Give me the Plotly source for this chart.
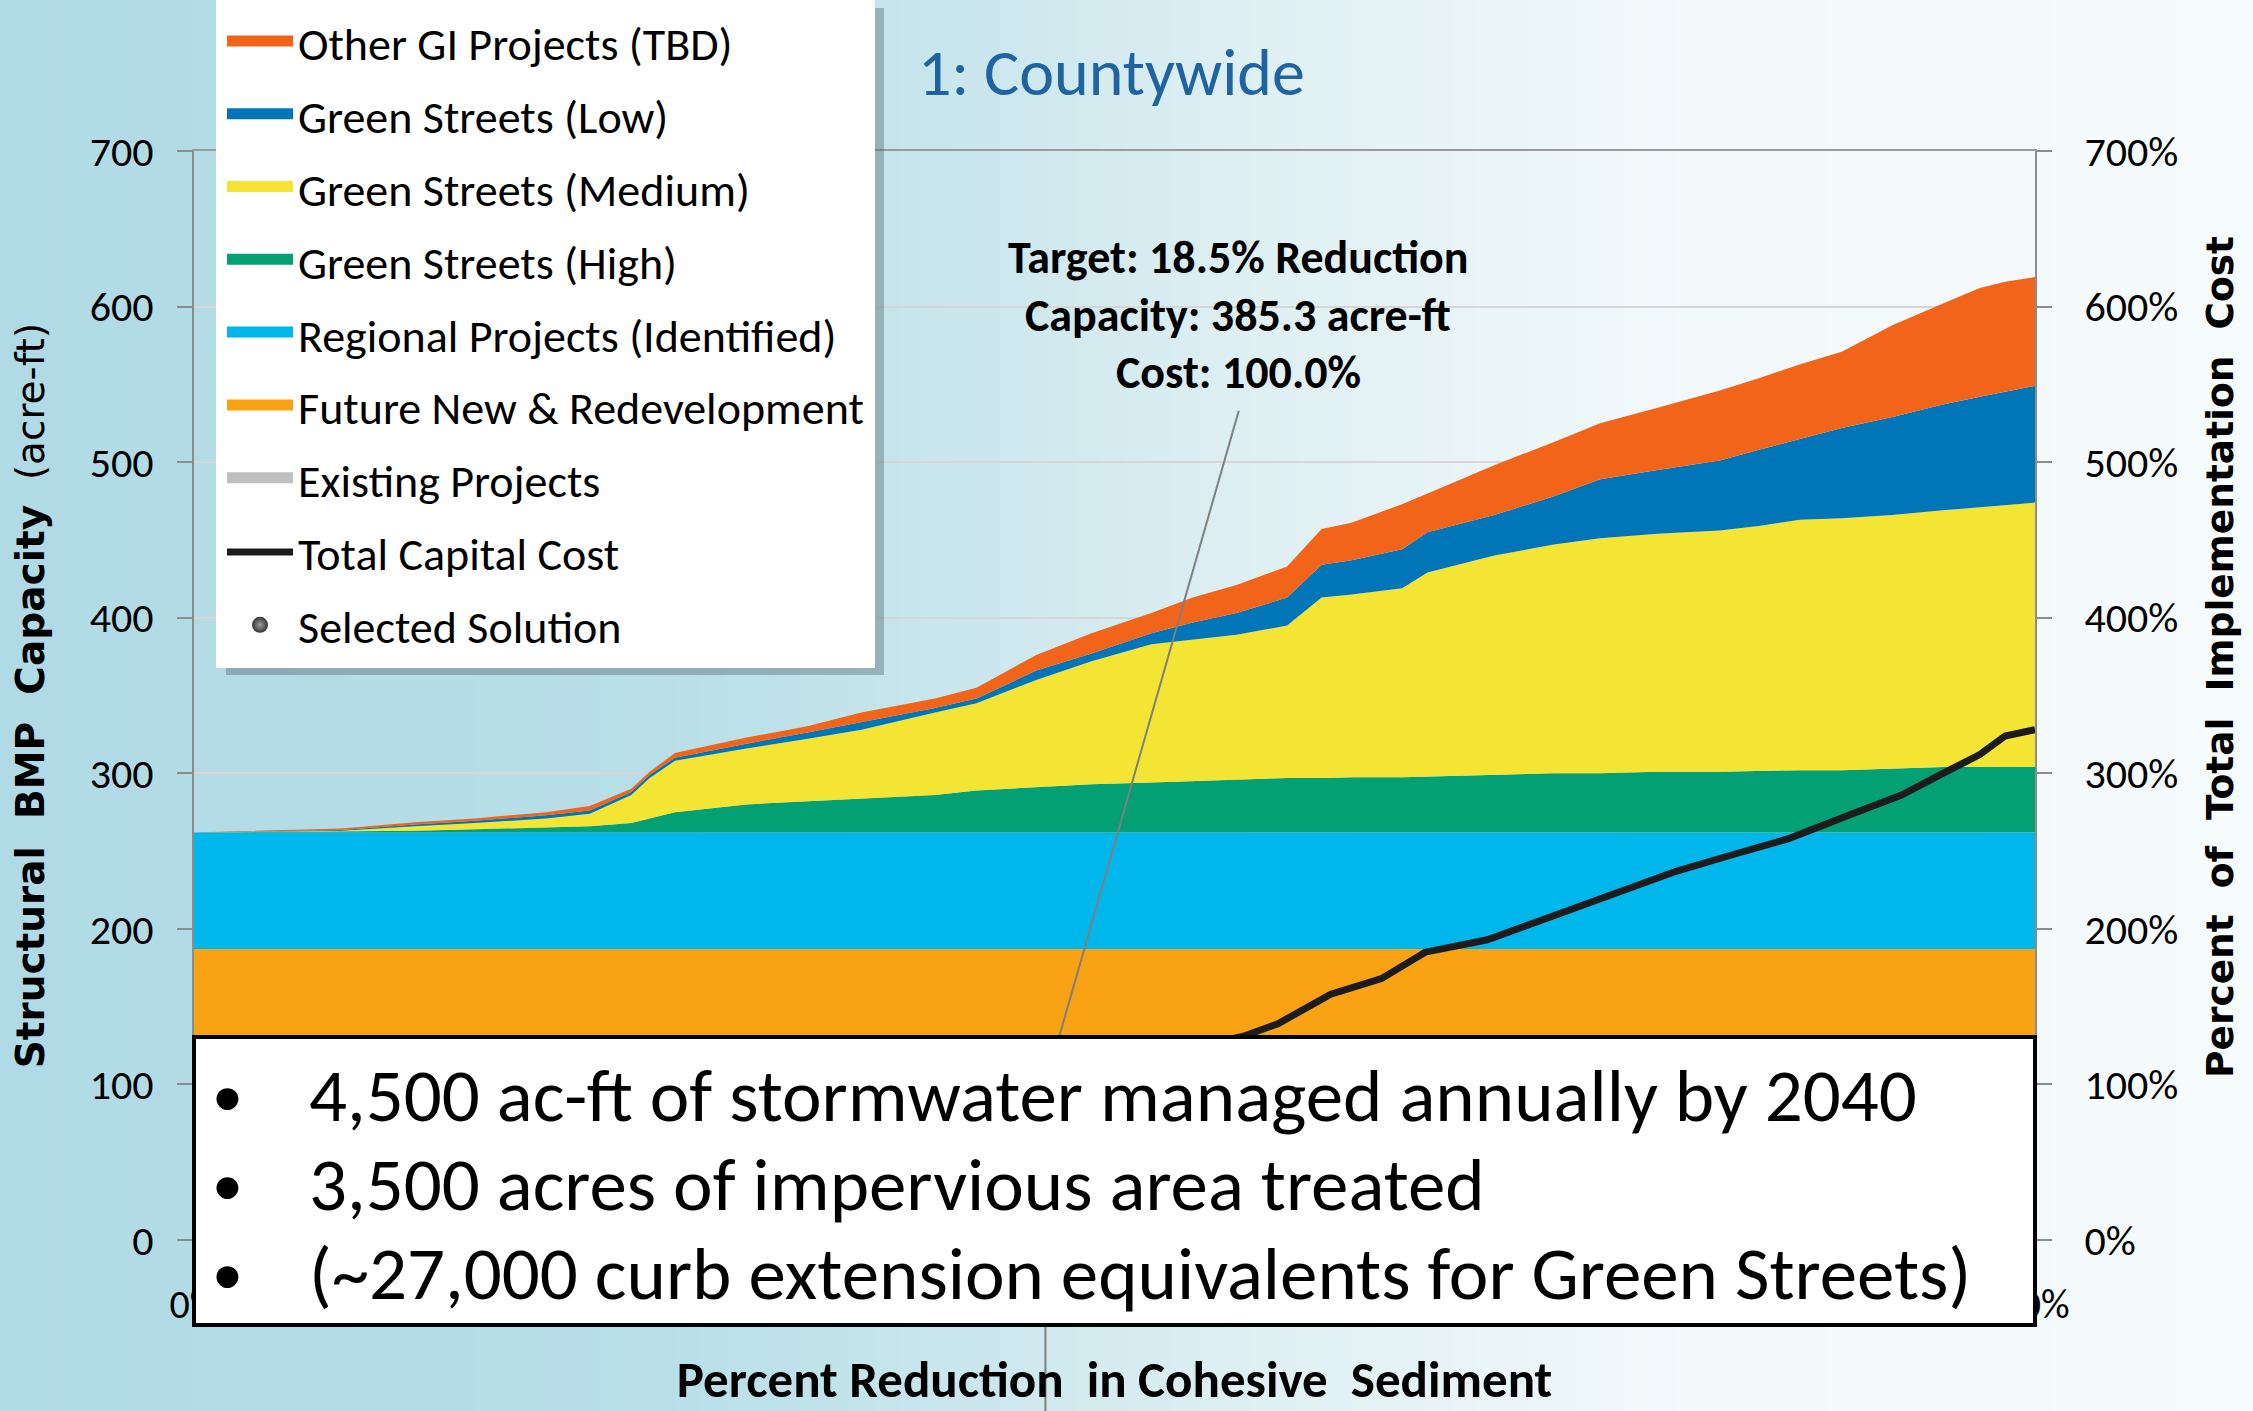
import plotly.graph_objects as go

# ---------------- data ----------------
REDUCTION_PCT = [0, 3.2, 4.8, 6.1, 7.65, 8.6, 9.5, 9.9, 10.45, 12.0, 13.3, 14.5,
                 16.1, 17.0, 18.3, 19.5, 20.8, 21.7, 22.65, 23.75, 24.5, 25.15,
                 26.25, 26.8, 28.25, 29.55, 30.55, 31.8, 33.15, 34.0, 34.9, 35.8,
                 36.9, 38.0, 38.8, 39.35, 40.0]

EXISTING_PROJECTS = 18      # acre-ft, constant band (hidden under text box)
FUTURE_REDEV = 169          # acre-ft, constant band
REGIONAL_IDENTIFIED = 75    # acre-ft, constant band

GS_HIGH = [0, 0.5, 1, 2, 3, 4, 6, 9, 13, 18, 20, 22, 24, 27, 29, 31, 32, 33, 34,
           35, 35, 35.5, 35.5, 36, 37, 38, 38, 39, 39, 39.5, 40, 40, 41, 42, 42, 42, 42]
GS_MEDIUM = [0, 0.5, 3, 4, 6, 8, 18, 26, 33, 36, 40, 44, 53, 56, 69, 79, 89, 91, 93,
             98, 116, 117.5, 121.5, 131, 141, 147, 151, 153, 155, 157.5, 161, 162,
             163, 165, 167, 168, 170]
GS_LOW = [0, 0.5, 1, 1.5, 2, 2, 2, 2, 2, 3, 4, 5, 3, 3, 6, 5, 7, 11, 14, 18, 21, 22,
          25, 26, 26, 31, 38, 41, 45, 49, 52, 58, 63, 68, 71, 73, 75]
OTHER_GI = [0, 1, 1.5, 1.5, 2, 3, 2, 2, 3, 4, 4, 6, 6, 7, 10, 13, 13, 16, 18, 20, 23,
            24, 29, 25, 32, 35, 36, 40, 45, 46, 48, 49, 59, 65, 70, 71, 70]

COST_X = [0, 5.15, 9.85, 14.5, 18.5, 20.8, 22.2, 22.8, 23.55, 24.7, 25.8, 26.75,
          28.1, 29.6, 30.9, 32.2, 33.35, 34.65, 35.95, 37.1, 38.0, 38.8, 39.35, 40.0]
COST_PCT = [3, 22, 45, 70, 100, 114, 127, 131, 139, 158, 168, 185, 193, 209, 223,
            237, 247, 258, 273, 286, 300, 312, 324, 328]

TARGET_PCT = 18.5
TARGET_CAPACITY = 385.3
TARGET_COST = 100.0

Y_TICKS = [0, 100, 200, 300, 400, 500, 600, 700]
Y_TICK_TEXT = ["0", "100", "200", "300", "400", "500", "600", "700"]
Y2_TICK_TEXT = ["0%", "100%", "200%", "300%", "400%", "500%", "600%", "700%"]
X_TICKS = [0, 40]
X_TICK_TEXT = ["0%", "40%"]

BULLETS = ["4,500 ac-ft of stormwater managed annually by 2040",
           "3,500 acres of impervious area treated",
           "(~27,000 curb extension equivalents for Green Streets)"]

# ---------------- styling ----------------
W, H = 2253, 1411
ML, MR, MT, MB = 194, 218, 151, 171
PW, PH = W - ML - MR, H - MT - MB
FONT = "Carlito, Calibri, Lato, sans-serif"
WIDE = "Verdana, 'DejaVu Sans', sans-serif"


def px_x(p):  # figure pixel -> paper x
    return (p - ML) / PW


def px_y(p):  # figure pixel -> paper y
    return (H - MB - p) / PH


fig = go.Figure()

n = len(REDUCTION_PCT)
stack_specs = [
    ("Existing Projects", [EXISTING_PROJECTS] * n, "#bfbfbf", 7),
    ("Future New & Redevelopment", [FUTURE_REDEV] * n, "#f9a213", 6),
    ("Regional Projects (Identified)", [REGIONAL_IDENTIFIED] * n, "#00b7eb", 5),
    ("Green Streets (High)", GS_HIGH, "#02a073", 4),
    ("Green Streets (Medium)", GS_MEDIUM, "#f4e535", 3),
    ("Green Streets (Low)", GS_LOW, "#0075b8", 2),
    ("Other GI Projects (TBD)", OTHER_GI, "#f26419", 1),
]
for name, vals, color, rank in stack_specs:
    fig.add_trace(go.Scatter(
        x=REDUCTION_PCT, y=vals, name=name, mode="lines", stackgroup="cap",
        line=dict(width=0, shape="linear", color=color), fillcolor=color,
        legendgroup=name, showlegend=False, hoverinfo="skip"))
    # legend entry with a thicker swatch
    fig.add_trace(go.Scatter(
        x=[None], y=[None], name=name, mode="lines", fill="toself",
        fillcolor=color, line=dict(color=color, width=10),
        legendgroup=name, legendrank=rank, hoverinfo="skip"))

fig.add_trace(go.Scatter(
    x=COST_X, y=COST_PCT, yaxis="y2", name="Total Capital Cost", mode="lines",
    line=dict(color="#1c1c1c", width=7), legendgroup="cost", legendrank=8))

fig.add_trace(go.Scatter(
    x=[TARGET_PCT], y=[TARGET_COST], yaxis="y2", name="Selected Solution",
    mode="markers", legendgroup="sel", legendrank=9,
    marker=dict(size=16, color="#333333",
                gradient=dict(type="radial", color="#a0a0a0"))))

# ---------------- background gradient ----------------
BG_STOPS = [(0.0, (176, 218, 229)), (0.30, (184, 223, 232)), (0.42, (200, 230, 236)),
            (0.55, (222, 239, 243)), (0.75, (242, 249, 251)), (1.0, (246, 251, 252))]


def bg_color(f):
    for (f0, c0), (f1, c1) in zip(BG_STOPS[:-1], BG_STOPS[1:]):
        if f0 <= f <= f1:
            t = (f - f0) / (f1 - f0) if f1 > f0 else 0
            c = [round(a + (b - a) * t) for a, b in zip(c0, c1)]
            return "rgb(%d,%d,%d)" % tuple(c)
    return "rgb(%d,%d,%d)" % BG_STOPS[-1][1]


shapes = []
NSTRIP = 90
for i in range(NSTRIP):
    f0, f1 = i / NSTRIP, (i + 1) / NSTRIP
    shapes.append(dict(type="rect", xref="paper", yref="paper", layer="below",
                       x0=px_x(f0 * W) - 0.001, x1=px_x(f1 * W) + 0.001,
                       y0=px_y(H), y1=px_y(0), line=dict(width=0),
                       fillcolor=bg_color((f0 + f1) / 2)))

# drop line from the selected solution and pointer from the annotation
shapes.append(dict(type="line", xref="x", yref="paper", layer="above",
                   x0=TARGET_PCT, x1=TARGET_PCT, y0=px_y(H), y1=TARGET_COST / 700,
                   line=dict(color="#7f7f7f", width=2)))
shapes.append(dict(type="line", xref="x", yref="y2", layer="above",
                   x0=22.7, y0=533, x1=TARGET_PCT, y1=TARGET_COST,
                   line=dict(color="#7f7f7f", width=2)))
# white text box
shapes.append(dict(type="rect", xref="paper", yref="paper", layer="above",
                   x0=0, x1=1, y0=px_y(1325), y1=px_y(1037),
                   fillcolor="white", line=dict(color="black", width=4)))
# legend shadow
shapes.append(dict(type="rect", xref="paper", yref="paper", layer="above",
                   x0=px_x(226), x1=px_x(884), y0=px_y(675), y1=px_y(8),
                   fillcolor="rgba(80,100,110,0.40)", line=dict(width=0)))

annotations = [
    dict(text="1: Countywide", xref="paper", yref="paper", x=px_x(1111), y=px_y(73),
         showarrow=False, xanchor="center", yanchor="middle",
         font=dict(family=FONT, size=66, color="#1f63a2", weight=300)),
    dict(text="<b>Percent  of  Total  Implementation  Cost</b>", xref="paper",
         yref="paper", x=px_x(2220), y=px_y(657), textangle=-90, showarrow=False,
         xanchor="center", yanchor="middle",
         font=dict(family=WIDE, size=37.5, color="black")),
]
target_lines = ["Target: %.1f%% Reduction" % TARGET_PCT,
                "Capacity: %.1f acre-ft" % TARGET_CAPACITY,
                "Cost: %.1f%%" % TARGET_COST]
for txt, yp in zip(target_lines, [257, 315, 372]):
    annotations.append(dict(text="<b>%s</b>" % txt, xref="paper", yref="paper",
                            x=px_x(1238), y=px_y(yp), showarrow=False,
                            xanchor="center", yanchor="middle",
                            font=dict(family=FONT, size=46, color="black")))
for txt, yp in zip(BULLETS, [1095, 1184, 1273]):
    annotations.append(dict(text="•", xref="paper", yref="paper", x=px_x(227),
                            y=px_y(yp), showarrow=False, xanchor="center",
                            yanchor="middle", font=dict(family=FONT, size=62, color="black")))
    annotations.append(dict(text=txt, xref="paper", yref="paper", x=px_x(307),
                            y=px_y(yp), showarrow=False, xanchor="left",
                            yanchor="middle", font=dict(family=FONT, size=75, color="black")))

fig.update_layout(
    width=W, height=H,
    margin=dict(l=ML, r=MR, t=MT, b=MB, autoexpand=False),
    paper_bgcolor="rgb(210,234,240)", plot_bgcolor="rgba(0,0,0,0)",
    shapes=shapes, annotations=annotations,
    showlegend=True,
    legend=dict(x=px_x(216), xanchor="left", y=px_y(0), yanchor="top",
                bgcolor="white", bordercolor="white", borderwidth=6,
                tracegroupgap=10, itemwidth=66,
                font=dict(family=FONT, size=46, color="black")),
    xaxis=dict(range=[0, 40], tickvals=X_TICKS, ticktext=X_TICK_TEXT, showgrid=False,
               zeroline=False, showline=True, mirror=True, linecolor="#9a9a9a",
               linewidth=2, ticks="", ticklabelstandoff=28,
               tickfont=dict(family=FONT, size=40, color="black"),
               title=dict(text="<b>Percent Reduction  in Cohesive  Sediment</b>",
                          font=dict(family=FONT, size=51, color="black"), standoff=40)),
    yaxis=dict(range=[0, 700], tickvals=Y_TICKS, ticktext=Y_TICK_TEXT, showgrid=True,
               gridcolor="#d6d6d6", gridwidth=2, zeroline=False, showline=True,
               linecolor="#8c8c8c", linewidth=2, ticks="outside", ticklen=15,
               tickcolor="#8c8c8c", tickwidth=2, ticklabelstandoff=15,
               tickfont=dict(family=FONT, size=42, color="black"),
               title=dict(text="<b>Structural  BMP  Capacity</b>  (acre-ft)",
                          font=dict(family=WIDE, size=39, color="black"), standoff=33)),
    yaxis2=dict(range=[0, 700], tickvals=Y_TICKS, ticktext=Y2_TICK_TEXT, overlaying="y",
                side="right", showgrid=False, zeroline=False, showline=True,
                linecolor="#8c8c8c", linewidth=2, ticks="outside", ticklen=15,
                tickcolor="#8c8c8c", tickwidth=2, ticklabelstandoff=24,
                tickfont=dict(family=FONT, size=42, color="black")),
)

fig.write_html("out.html", config={"displayModeBar": False},
               post_script="document.body.style.margin='0px';")
